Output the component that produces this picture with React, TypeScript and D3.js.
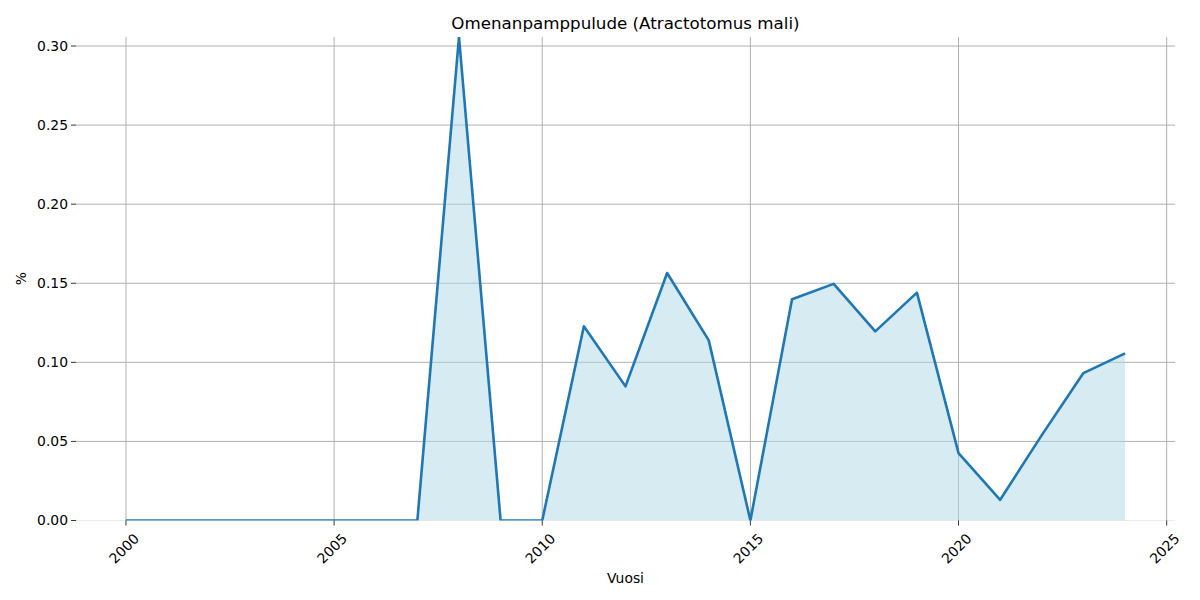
import React from "react";
import * as d3 from "d3";

const years = [2000, 2001, 2002, 2003, 2004, 2005, 2006, 2007, 2008, 2009, 2010, 2011, 2012, 2013, 2014, 2015, 2016, 2017, 2018, 2019, 2020, 2021, 2022, 2023, 2024];
const values = [0, 0, 0, 0, 0, 0, 0, 0, 0.3057, 0, 0, 0.1228, 0.0848, 0.1565, 0.1139, 0, 0.1399, 0.1496, 0.1196, 0.1441, 0.0426, 0.0131, 0.054, 0.0932, 0.1057];
const xTicks = [2000, 2005, 2010, 2015, 2020, 2025];
const yTicks = [0, 0.05, 0.1, 0.15, 0.2, 0.25, 0.3];
const title = "Omenanpamppulude (Atractotomus mali)";
const xLabel = "Vuosi";
const yLabel = "%";

const W = 1200, H = 600;
const L = 76, R = 1175, T = 37, B = 520.5;
const FONT = "DejaVu Sans, sans-serif";

export default function App() {
  const x = d3.scaleLinear().domain([1998.8, 2025.2]).range([L, R]);
  const ymax = d3.max(values) as number;
  const y = d3.scaleLinear().domain([0, ymax]).range([B, T]);
  const data = years.map((yr, i) => ({ yr, v: values[i] }));
  const area = d3.area<{ yr: number; v: number }>().x(d => x(d.yr)).y0(y(0)).y1(d => y(d.v));
  const line = d3.line<{ yr: number; v: number }>().x(d => x(d.yr)).y(d => y(d.v));

  return (
    <svg width={W} height={H} style={{ display: "block", position: "absolute", left: 0, top: 0 }} fontFamily={FONT}>
      <defs>
        <clipPath id="plot">
          <rect x={L} y={T} width={R - L} height={B - T} />
        </clipPath>
      </defs>
      <rect x={0} y={0} width={W} height={H} fill="#fff" />
      {/* grid */}
      {yTicks.map(t => (
        <line key={"gy" + t} x1={L} x2={R} y1={y(t)} y2={y(t)} stroke={t === 0 ? "#ececec" : "#b0b0b0"} strokeWidth={1} />
      ))}
      {xTicks.map(t => (
        <line key={"gx" + t} x1={x(t)} x2={x(t)} y1={T} y2={B} stroke="#b0b0b0" strokeWidth={1} />
      ))}
      <g clipPath="url(#plot)">
        <path d={area(data) || ""} fill="#add8e6" fillOpacity={0.5} />
        <path d={line(data) || ""} fill="none" stroke="#1f77b4" strokeWidth={2.6} strokeLinejoin="round" />
      </g>
      {/* y ticks */}
      {yTicks.map(t => (
        <g key={"ty" + t}>
          <line x1={L - 5} x2={L} y1={y(t)} y2={y(t)} stroke="#000" strokeWidth={0.8} />
          <text x={L - 8} y={y(t)} dy="0.35em" textAnchor="end" fontSize={13.9} fill="#000">{t.toFixed(2)}</text>
        </g>
      ))}
      {/* x ticks */}
      {xTicks.map(t => (
        <g key={"tx" + t}>
          <line x1={x(t)} x2={x(t)} y1={B} y2={B + 5} stroke="#000" strokeWidth={0.8} />
          <text transform={`translate(${x(t) - 2},${B + 28}) rotate(-45)`} textAnchor="middle" dy="0.35em" fontSize={13.9} fill="#000">{t}</text>
        </g>
      ))}
      <text x={(L + R) / 2} y={23} dy="0.35em" textAnchor="middle" fontSize={16.7} fill="#000">{title}</text>
      <text x={(L + R) / 2} y={578} dy="0.35em" textAnchor="middle" fontSize={13.9} fill="#000">{xLabel}</text>
      <text transform={`translate(21,${(T + B) / 2}) rotate(-90)`} textAnchor="middle" dy="0.35em" fontSize={13.9} fill="#000">{yLabel}</text>
    </svg>
  );
}
